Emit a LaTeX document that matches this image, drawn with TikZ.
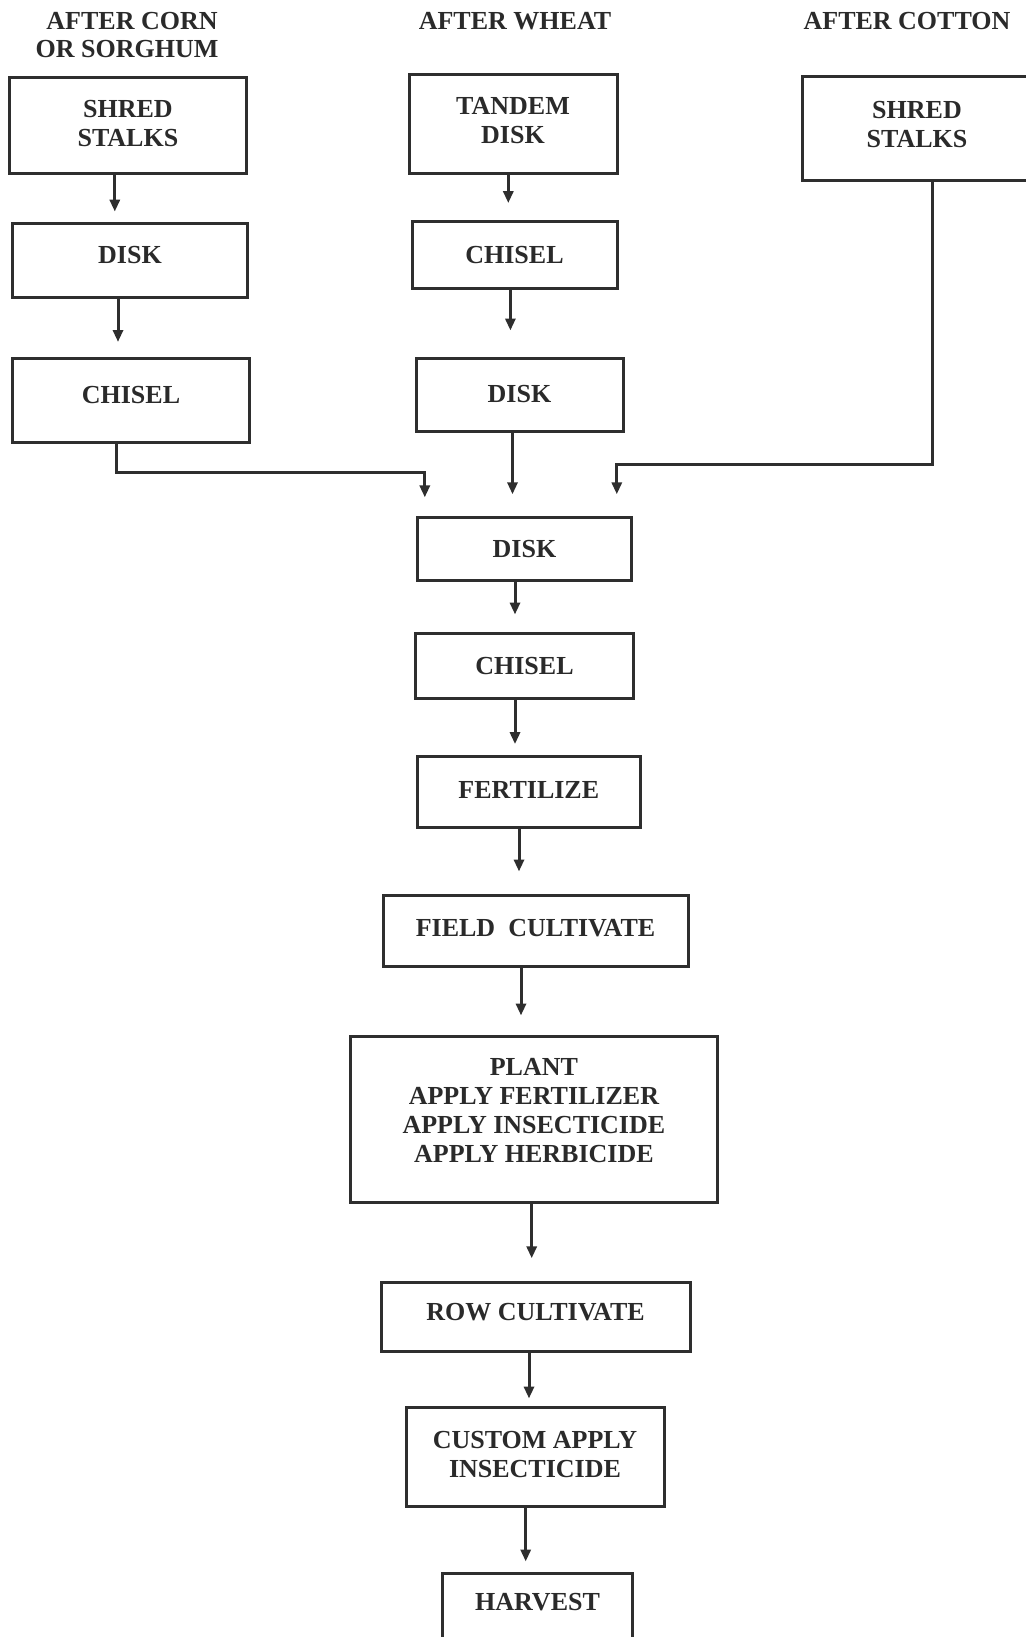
\documentclass[tikz,border=0pt]{standalone}
\usepackage{fontspec}
\setmainfont{Liberation Serif}
\usetikzlibrary{arrows.meta}
\definecolor{ink}{HTML}{2E2E2E}
\definecolor{txt}{HTML}{2A2A2A}
\newcommand\vlink[4]{%
  \path ([xshift=#3]#1.south) coordinate (#1-out);
  \draw[arr, shorten >=#4] (#1-out) -- (#1-out |- #2.north);}
\begin{document}
\begin{tikzpicture}[x=0.5pt,y=-0.5pt,
  every node/.style={font=\fontsize{13pt}{14.5pt}\selectfont\bfseries, text=txt},
  box/.style={draw=ink, line width=1.5pt, inner sep=0pt, align=center},
  ttl/.style={inner sep=0pt, align=center},
  arr/.style={draw=ink, line width=1.5pt, -{Triangle[length=6pt,width=5pt]}}]
\useasboundingbox (0,0) rectangle (1026,1637);
\clip (0,0) rectangle (1026,1637);
% titles
\node[ttl] (t1a) at (132,21) {AFTER CORN};
\node[ttl] (t1b) at (127,49) {OR SORGHUM};
\node[ttl] (t2) at (515,21) {AFTER WHEAT};
\node[ttl] (t3) at (907,21) {AFTER COTTON};
% left column
\node[box, minimum width=118.5pt, minimum height=48pt] (b1) at (127.9,125.3) {SHRED\\STALKS\\[-12.4pt]};
\node[box, minimum width=117.5pt, minimum height=37pt, text depth=5.2pt] (b2) at (130,260.5) {DISK};
\node[box, minimum width=118.5pt, minimum height=42.2pt, text depth=5.2pt] (b3) at (131,400.3) {CHISEL};
% middle column
\node[box, minimum width=104pt, minimum height=49.5pt] (b4) at (513,124.5) {TANDEM\\DISK\\[-10.85pt]};
\node[box, minimum width=102.5pt, minimum height=33pt] (b5) at (514.5,255) {CHISEL};
\node[box, minimum width=103.5pt, minimum height=36.5pt] (b6) at (519.5,394.5) {DISK};
% right column
\node[box, minimum width=115pt, minimum height=52pt] (b7) at (917,129) {SHRED\\STALKS\\[-9.8pt]};
% main chain
\node[box, minimum width=107pt, minimum height=31.3pt] (b8) at (524.5,549) {DISK};
\node[box, minimum width=109pt, minimum height=32.5pt] (b9) at (524.5,666) {CHISEL};
\node[box, minimum width=111.2pt, minimum height=35.4pt, text depth=2.1pt] (b10) at (528.8,792.3) {FERTILIZE};
\node[box, minimum width=152.5pt, minimum height=35.5pt, text depth=3.1pt] (b11) at (535.5,931) {FIELD\ \ CULTIVATE};
\node[box, minimum width=183.2pt, minimum height=83pt] (b12) at (533.9,1119.4) {PLANT\\APPLY FERTILIZER\\APPLY INSECTICIDE\\APPLY HERBICIDE\\[-6pt]};
\node[box, minimum width=154.5pt, minimum height=34.5pt, text depth=5.2pt] (b13) at (535.5,1317) {ROW CULTIVATE};
\node[box, minimum width=129pt, minimum height=49.5pt] (b14) at (535,1456.5) {CUSTOM APPLY\\INSECTICIDE\\[-11.9pt]};
\node[box, minimum width=95pt, text height=18.5pt, text depth=20pt] (b15) at (537.5,1611.5) {HARVEST};
% connectors
\vlink{b1}{b2}{-6.55pt}{5.2pt}
\vlink{b2}{b3}{-6pt}{7.3pt}
\vlink{b4}{b5}{-2.35pt}{8.7pt}
\vlink{b5}{b6}{-2.05pt}{13pt}
\vlink{b6}{b8}{-3.5pt}{10.95pt}
\coordinate (m1) at (424.8,472.8);
\coordinate (m2) at (616.8,464.4);
\path ([xshift=-7.05pt]b3.south) coordinate (b3-out);
\draw[arr, shorten >=9.4pt] (b3-out) |- (m1) -- (m1 |- b8.north);
\path ([xshift=7.5pt]b7.south) coordinate (b7-out);
\draw[arr, shorten >=10.95pt] (b7-out) |- (m2) -- (m2 |- b8.north);
\vlink{b8}{b9}{-4.75pt}{8.75pt}
\vlink{b9}{b10}{-4.75pt}{5.65pt}
\vlink{b10}{b11}{-4.9pt}{11.25pt}
\vlink{b11}{b12}{-7.25pt}{9.7pt}
\vlink{b12}{b13}{-1.1pt}{11.35pt}
\vlink{b13}{b14}{-3.25pt}{3.5pt}
\vlink{b14}{b15}{-4.65pt}{5pt}
\end{tikzpicture}
\end{document}
